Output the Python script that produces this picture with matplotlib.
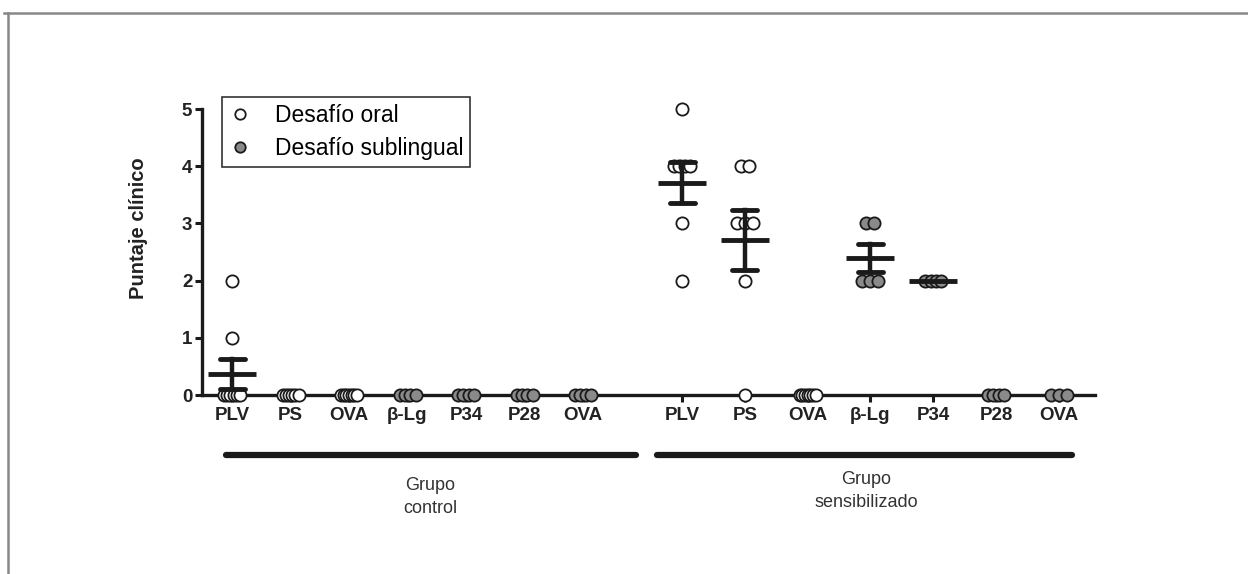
import numpy as np
import matplotlib.pyplot as plt
from matplotlib.lines import Line2D
from matplotlib.transforms import blended_transform_factory

# Categorías (eje x)
labels = ["PLV", "PS", "OVA", "β-Lg", "P34", "P28", "OVA"]
# tipo de desafío por categoría: oral (abierto) o sublingual (gris)
oral = [True, True, True, False, False, False, False]

# Puntajes clínicos por animal - grupo control
control = [
    [2, 1, 0, 0, 0, 0, 0, 0],
    [0, 0, 0, 0, 0, 0],
    [0, 0, 0, 0, 0, 0, 0],
    [0, 0, 0, 0],
    [0, 0, 0, 0],
    [0, 0, 0, 0],
    [0, 0, 0, 0],
]
# Puntajes clínicos por animal - grupo sensibilizado
sensib = [
    [5, 4, 4, 4, 4, 3, 2],
    [4, 4, 3, 3, 3, 2, 0],
    [0, 0, 0, 0, 0, 0, 0],
    [3, 3, 2, 2, 2],
    [2, 2, 2, 2],
    [0, 0, 0, 0],
    [0, 0, 0],
]

W, H = 1248, 574
fig = plt.figure(figsize=(W / 100, H / 100), dpi=100)
ax = fig.add_axes([202 / W, (H - 395) / H, (1095 - 202) / W, 286 / H])

# posiciones de las categorías (en pixeles del eje)
pos_c = [232 + 58.5 * i for i in range(7)]
pos_s = [682 + 62.8 * i for i in range(7)]

dark = "#1a1a1a"
gris = "#8a8a8a"


def dibujar(pos, datos):
    for x, vals, o in zip(pos, datos, oral):
        vals = np.array(vals, dtype=float)
        # repartir horizontalmente los puntos con el mismo valor
        xs = np.zeros(len(vals))
        for v in np.unique(vals):
            idx = np.where(vals == v)[0]
            n = len(idx)
            step = min(8.0, 16.0 / (n - 1)) if n > 1 else 0
            xs[idx] = x + (np.arange(n) - (n - 1) / 2) * step
        ax.plot(xs, vals, "o", ms=8.8, mfc="white" if o else gris,
                mec=dark, mew=1.3, clip_on=False, zorder=3)
        m = vals.mean()
        sem = vals.std(ddof=1) / np.sqrt(len(vals)) if len(vals) > 1 else 0
        if m > 0:
            ax.plot([x - 24, x + 24], [m, m], color=dark, lw=3.5,
                    solid_capstyle="butt", zorder=4, clip_on=False)
            if sem > 0:
                ax.plot([x, x], [m - sem, m + sem], color=dark, lw=3.2, zorder=4)
                for e in (m - sem, m + sem):
                    ax.plot([x - 12.5, x + 12.5], [e, e], color=dark, lw=3.5,
                            solid_capstyle="round", zorder=4)


dibujar(pos_c, control)
dibujar(pos_s, sensib)

ax.set_xlim(202, 1095)
ax.set_ylim(0, 5)
for s in ["top", "right"]:
    ax.spines[s].set_visible(False)
for s in ["left", "bottom"]:
    ax.spines[s].set_linewidth(2.4)
    ax.spines[s].set_color(dark)
    ax.spines[s].set_zorder(2)

ax.set_xticks(pos_c + pos_s)
ax.set_xticklabels(labels + labels)
ax.set_yticks(range(6))
ax.tick_params(axis="both", direction="out", length=5, width=2.2, color=dark)
ax.tick_params(axis="x", pad=4)
ax.tick_params(axis="y", pad=2)
for t in ax.get_xticklabels() + ax.get_yticklabels():
    t.set_fontweight("bold")
    t.set_fontsize(13.5)
    t.set_family(["Liberation Sans", "DejaVu Sans"])
    t.set_color("#222222")

ax.set_ylabel("Puntaje clínico", fontsize=14.5, fontweight="bold",
              family=["Liberation Sans", "DejaVu Sans"], color="#222222")
ax.yaxis.set_label_coords(-0.06, 0.584)

# leyenda
handles = [
    Line2D([], [], ls="", marker="o", ms=7.5, mfc="white", mec=dark, mew=1.3),
    Line2D([], [], ls="", marker="o", ms=7.5, mfc=gris, mec=dark, mew=1.3),
]
leg = ax.legend(handles, ["Desafío oral", "Desafío sublingual"],
                loc="upper left", bbox_to_anchor=(222 / W, (H - 97) / H),
                bbox_transform=fig.transFigure, borderaxespad=0,
                frameon=True, fancybox=False, edgecolor="black",
                prop={"family": ["Liberation Sans", "DejaVu Sans"], "size": 16.5},
                handletextpad=1.0, labelspacing=0.45, borderpad=0.3,
                handlelength=1.0)
leg.get_frame().set_linewidth(1.2)

# barras de grupo y textos
tr = blended_transform_factory(ax.transData, ax.transAxes)
yb = (395 - 455) / 286
ax.plot([226, 636], [yb, yb], color=dark, lw=4.5, transform=tr, clip_on=False,
        solid_capstyle="round")
ax.plot([657, 1072], [yb, yb], color=dark, lw=4.5, transform=tr, clip_on=False,
        solid_capstyle="round")
fam = ["Liberation Sans", "DejaVu Sans"]
ax.text(430, (395 - 477) / 286, "Grupo\ncontrol", transform=tr, ha="center",
        va="top", fontsize=13, color="#333333", family=fam, linespacing=1.45)
ax.text(866, (395 - 471) / 286, "Grupo\nsensibilizado", transform=tr, ha="center",
        va="top", fontsize=13, color="#333333", family=fam, linespacing=1.45)

# marco gris de la figura (arriba e izquierda)
fig.add_artist(Line2D([4 / W, 1], [(H - 13) / H, (H - 13) / H], color="#888888", lw=1.8))
fig.add_artist(Line2D([8 / W, 8 / W], [0, (H - 13) / H], color="#888888", lw=1.8))

fig.savefig("out.png", dpi=100)
